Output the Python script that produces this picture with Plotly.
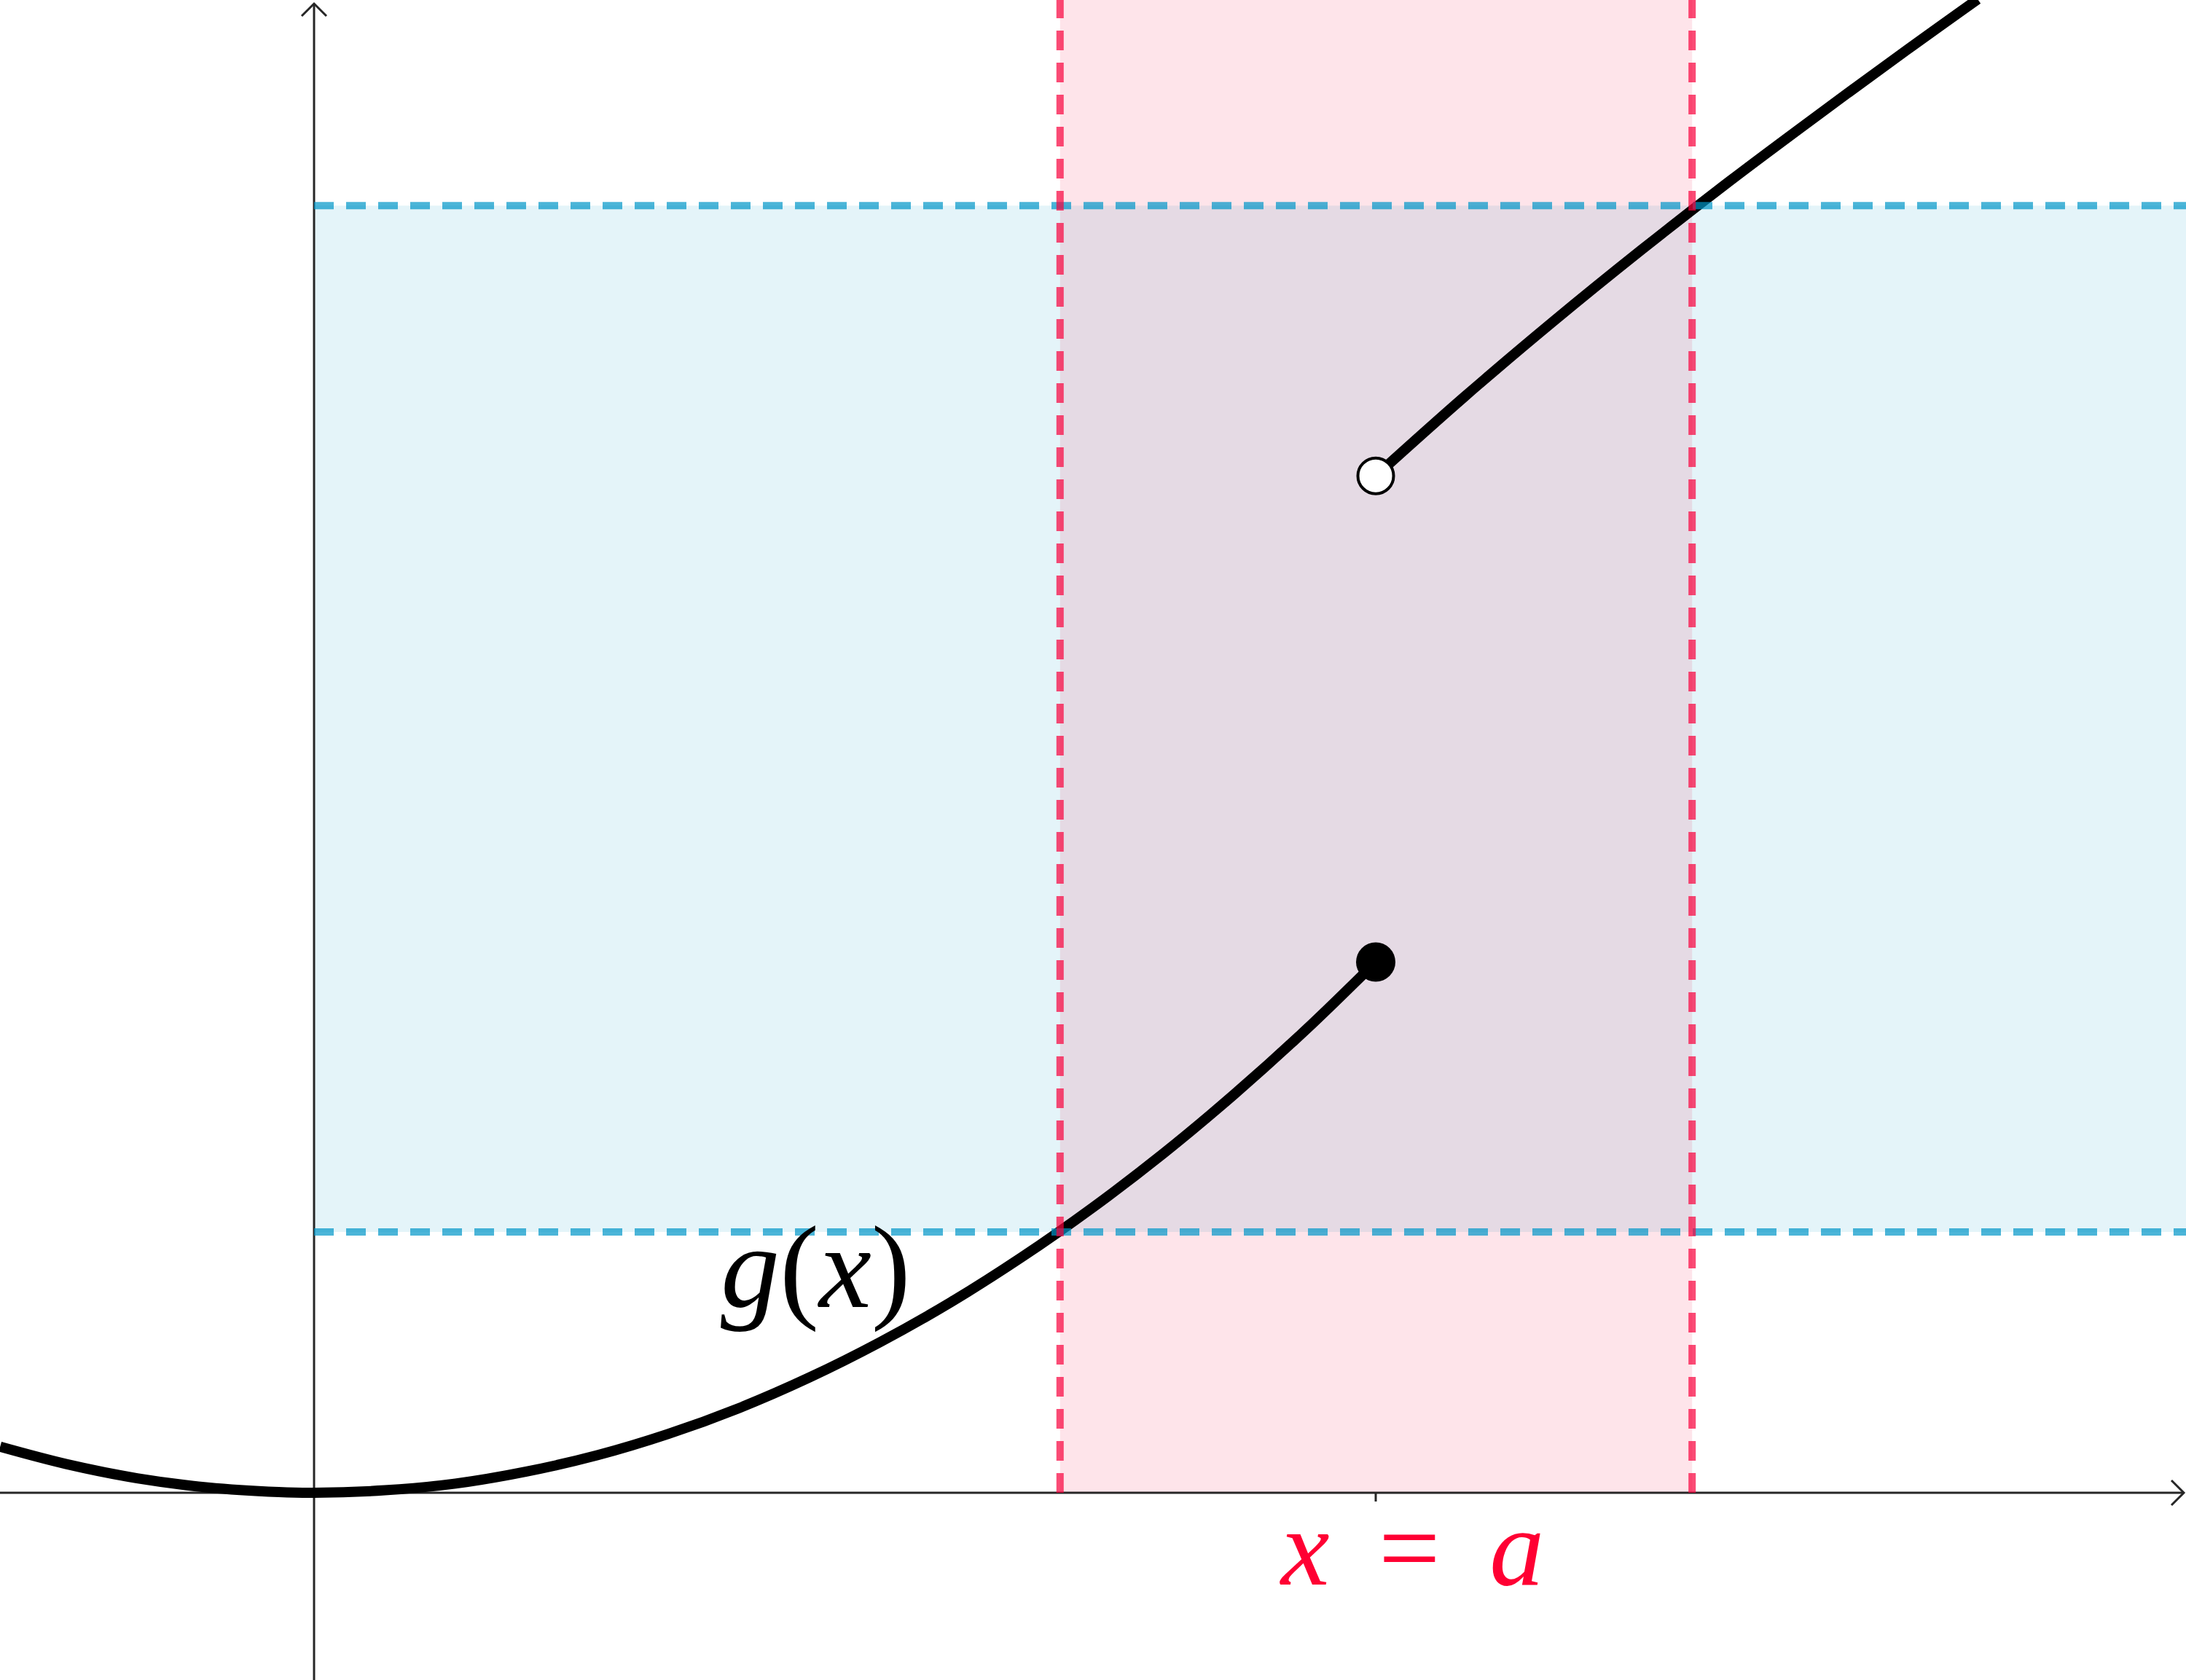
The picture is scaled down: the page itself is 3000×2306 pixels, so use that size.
import plotly.graph_objects as go

# ---- scale (pixels per unit, origin position) ----
W, H = 3000, 2306
UNIT = 485.67
X0_PX, Y0_PX = 431, 2049
x_range = [-X0_PX / UNIT, (W - X0_PX) / UNIT]
y_range = [-(H - Y0_PX) / UNIT, Y0_PX / UNIT]

# ---- data ----
a_value = 3.0
red_band_x = [2.108, 3.894]
blue_band_y = [0.737, 3.638]

lower_x = [-0.887, -0.70, -0.50, -0.30, -0.10, 0.0, 0.20, 0.40, 0.60, 0.80, 1.00,
           1.20, 1.40, 1.60, 1.80, 2.00, 2.20, 2.40, 2.60, 2.80, 3.0]
lower_y = [0.130, 0.081, 0.041, 0.015, 0.002, 0.0, 0.007, 0.026, 0.060, 0.106, 0.166,
           0.239, 0.326, 0.426, 0.539, 0.666, 0.806, 0.959, 1.126, 1.306, 1.5]

upper_x = [3.0, 3.25, 3.50, 3.75, 4.00, 4.25, 4.50, 4.701]
upper_y = [2.874, 3.097, 3.309, 3.512, 3.707, 3.894, 4.077, 4.221]

closed_pt = (3.0, 1.5)
open_pt = (3.0, 2.874)

label_g = "<i>g</i>(<i>x</i>)"
label_a = "<i>x</i>&#8201; = &#8201;<i>a</i>"

# ---- colours ----
RED = "rgb(249,0,60)"
BLUE = "rgb(0,150,200)"
AXIS = "#262626"
LABEL_RED = "#ff0033"

px = 1.0 / UNIT  # one pixel in data units

fig = go.Figure()

line_style = dict(color="black", width=14, shape="spline", smoothing=1.0)
fig.add_trace(go.Scatter(x=lower_x, y=lower_y, mode="lines", line=line_style,
                         hoverinfo="skip", showlegend=False))
fig.add_trace(go.Scatter(x=upper_x, y=upper_y, mode="lines", line=line_style,
                         hoverinfo="skip", showlegend=False))
fig.add_trace(go.Scatter(x=[closed_pt[0]], y=[closed_pt[1]], mode="markers",
                         marker=dict(color="black", size=54, line=dict(width=0)),
                         hoverinfo="skip", showlegend=False))
fig.add_trace(go.Scatter(x=[open_pt[0]], y=[open_pt[1]], mode="markers",
                         marker=dict(color="white", size=49, line=dict(color="black", width=4)),
                         hoverinfo="skip", showlegend=False))

shapes = []
shapes.append(dict(type="rect", layer="below", xref="x", yref="y",
                   x0=0, x1=x_range[1], y0=blue_band_y[0], y1=blue_band_y[1],
                   fillcolor=BLUE, opacity=0.106, line=dict(width=0)))
shapes.append(dict(type="rect", layer="below", xref="x", yref="y",
                   x0=red_band_x[0], x1=red_band_x[1], y0=0, y1=y_range[1],
                   fillcolor=RED, opacity=0.105, line=dict(width=0)))

x_end = x_range[1] - 3 * px
y_end = y_range[1] - 5 * px
arm = 17 * px
shapes.append(dict(type="line", layer="below", x0=x_range[0], x1=x_end, y0=0, y1=0,
                   line=dict(color=AXIS, width=3)))
shapes.append(dict(type="line", layer="below", x0=0, x1=0, y0=y_range[0], y1=y_end,
                   line=dict(color=AXIS, width=3)))
shapes.append(dict(type="path", layer="below",
                   path=f"M {x_end-arm},{arm} L {x_end},0 L {x_end-arm},{-arm}",
                   line=dict(color=AXIS, width=3)))
shapes.append(dict(type="path", layer="below",
                   path=f"M {-arm},{y_end-arm} L 0,{y_end} L {arm},{y_end-arm}",
                   line=dict(color=AXIS, width=3)))
shapes.append(dict(type="line", layer="below", x0=a_value, x1=a_value, y0=0, y1=-12 * px,
                   line=dict(color=AXIS, width=3)))

dash = "27px,17px"
for yv in blue_band_y:
    shapes.append(dict(type="line", layer="above", x0=0, x1=x_range[1], y0=yv, y1=yv,
                       line=dict(color=BLUE, width=10, dash=dash), opacity=0.7))
for xv in red_band_x:
    shapes.append(dict(type="line", layer="above", x0=xv, x1=xv, y0=0, y1=y_range[1],
                       line=dict(color=RED, width=10, dash=dash), opacity=0.7))

fig.update_layout(shapes=shapes)

fig.add_annotation(x=(1119 - X0_PX) / UNIT, y=(Y0_PX - 1739) / UNIT, text=label_g,
                   showarrow=False, xanchor="center", yanchor="middle",
                   font=dict(family="Liberation Serif", size=162, color="black"))
fig.add_annotation(x=(1937 - X0_PX) / UNIT, y=(Y0_PX - 2124) / UNIT, text=label_a,
                   showarrow=False, xanchor="center", yanchor="middle",
                   font=dict(family="Liberation Serif", size=150, color=LABEL_RED))

fig.update_layout(
    width=W, height=H,
    margin=dict(l=0, r=0, t=0, b=0, pad=0),
    paper_bgcolor="white", plot_bgcolor="white",
    xaxis=dict(range=x_range, visible=False, fixedrange=True),
    yaxis=dict(range=y_range, visible=False, fixedrange=True),
    showlegend=False,
)

fig.write_html("out.html", config={"displayModeBar": False},
               post_script="document.body.style.margin='0';document.body.style.padding='0';")
